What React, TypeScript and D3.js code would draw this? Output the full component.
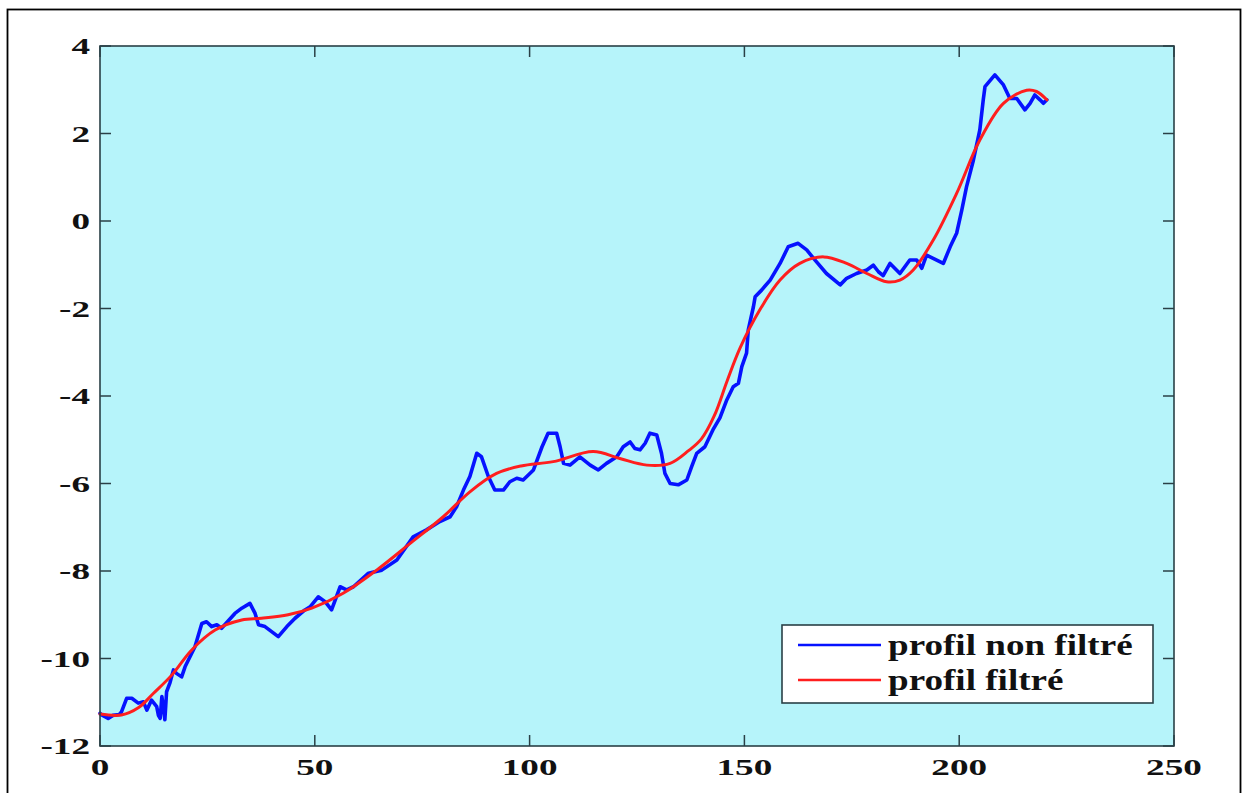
import React from "react";
import * as d3 from "d3";

// Profile samples (distance, value)
const rawX = [0, 0.4, 1.9, 3.0, 4.5, 5.0, 6.2, 7.4, 8.9, 10.1, 10.9, 12.0, 13.2, 13.6, 14.0, 14.4, 14.8, 15.1, 15.5, 16.3, 17.1, 17.8, 19.0, 19.8, 22.1, 23.7, 24.8, 26.0, 27.2, 28.3, 31.4, 33.0, 34.9, 36.1, 36.9, 38.4, 41.5, 43.5, 45.4, 47.7, 48.9, 50.8, 52.4, 53.9, 55.9, 57.4, 59.0, 62.5, 65.6, 69.1, 72.9, 76.0, 79.1, 81.5, 83.0, 84.6, 86.1, 87.7, 88.8, 90.4, 91.9, 93.9, 95.4, 97.0, 98.5, 100.9, 102.9, 104.3, 106.3, 107.1, 107.9, 109.4, 111.7, 114.1, 116.0, 117.9, 120.3, 121.8, 123.4, 124.5, 125.7, 126.9, 128.0, 129.6, 130.7, 131.5, 132.7, 134.6, 136.6, 137.7, 138.9, 140.8, 142.8, 144.3, 145.9, 147.4, 148.6, 149.4, 150.5, 150.9, 152.1, 152.5, 154.0, 156.0, 158.3, 160.2, 162.5, 164.5, 166.4, 169.1, 172.3, 173.8, 176.1, 178.5, 180.0, 181.2, 182.3, 183.9, 185.4, 186.2, 188.5, 190.1, 191.3, 192.4, 196.3, 197.9, 199.4, 200.6, 201.7, 203.3, 204.8, 205.6, 206.0, 208.3, 210.3, 211.8, 213.4, 215.3, 216.5, 217.6, 218.8, 219.6, 220.4];
const rawY = [-11.25, -11.29, -11.37, -11.3, -11.28, -11.22, -10.91, -10.91, -11.02, -10.99, -11.18, -10.95, -11.1, -11.3, -11.37, -10.87, -11.15, -11.4, -10.76, -10.55, -10.26, -10.34, -10.42, -10.19, -9.73, -9.2, -9.16, -9.27, -9.23, -9.31, -8.97, -8.85, -8.74, -8.97, -9.23, -9.27, -9.5, -9.27, -9.08, -8.89, -8.82, -8.59, -8.7, -8.89, -8.36, -8.43, -8.36, -8.05, -7.98, -7.75, -7.22, -7.06, -6.87, -6.76, -6.53, -6.15, -5.84, -5.31, -5.39, -5.84, -6.15, -6.15, -5.96, -5.88, -5.92, -5.69, -5.16, -4.85, -4.85, -5.16, -5.54, -5.58, -5.39, -5.58, -5.69, -5.54, -5.39, -5.16, -5.05, -5.2, -5.23, -5.08, -4.85, -4.89, -5.31, -5.77, -6.0, -6.03, -5.92, -5.62, -5.31, -5.16, -4.75, -4.5, -4.09, -3.79, -3.71, -3.33, -3.02, -2.49, -1.96, -1.73, -1.58, -1.35, -0.97, -0.59, -0.51, -0.66, -0.89, -1.2, -1.46, -1.31, -1.2, -1.12, -1.01, -1.16, -1.25, -0.97, -1.12, -1.2, -0.89, -0.89, -1.08, -0.78, -0.97, -0.59, -0.28, 0.25, 0.78, 1.39, 2.08, 2.77, 3.07, 3.34, 3.11, 2.8, 2.8, 2.54, 2.69, 2.88, 2.77, 2.69, 2.77];

const filtX = [0, 5, 9, 12.4, 16.7, 21.3, 26.8, 33.0, 37.6, 43.8, 49.3, 56.6, 64.4, 72.2, 79.9, 86.1, 92.3, 98, 105.5, 114.8, 121.0, 127.3, 132.7, 137, 140, 143, 146, 149, 153.6, 158.3, 162.9, 168.4, 173.8, 178.5, 183.1, 186.2, 189.3, 194.0, 199.4, 204.8, 210.3, 215.7, 218.0, 220.4];
const filtY = [-11.27, -11.29, -11.12, -10.8, -10.38, -9.81, -9.35, -9.12, -9.08, -9.0, -8.85, -8.51, -7.98, -7.37, -6.76, -6.19, -5.77, -5.6, -5.5, -5.27, -5.43, -5.58, -5.54, -5.25, -4.98, -4.45, -3.65, -2.9, -2.03, -1.35, -0.97, -0.82, -0.97, -1.2, -1.39, -1.35, -1.12, -0.43, 0.63, 1.85, 2.69, 2.99, 2.96, 2.77];

const xTicks = [0, 50, 100, 150, 200, 250];
const yTicks = [4, 2, 0, -2, -4, -6, -8, -10, -12];
const legendLabels = ["profil non filtré", "profil filtré"];

const W = 1242;
const H = 793;
const left = 100, right = 1174, top = 46, bottom = 746;
const axisColor = "#2a4046";
const bg = "#b6f4fa";
const blue = "#0612ff";
const red = "#ff1e1e";
const font = "'Liberation Serif', 'Times New Roman', serif";

export default function App() {
  const x = d3.scaleLinear().domain([0, 250]).range([left, right]);
  const y = d3.scaleLinear().domain([-12, 4]).range([bottom, top]);

  const raw = rawX.map((v, i) => [v, rawY[i]] as [number, number]);
  const filt = filtX.map((v, i) => [v, filtY[i]] as [number, number]);

  const rawLine = d3.line<[number, number]>().x(d => x(d[0])).y(d => y(d[1])).curve(d3.curveLinear);
  const filtLine = d3.line<[number, number]>().x(d => x(d[0])).y(d => y(d[1])).curve(d3.curveCatmullRom.alpha(0.5));

  const tickLen = 11;

  return (
    <svg width={W} height={H} style={{ position: "absolute", left: 0, top: 0, background: "#fff" }}>
      <rect x={7.5} y={9.5} width={1233} height={800} fill="#fff" stroke="#000" strokeWidth={1.8} />
      <rect x={left} y={top} width={right - left} height={bottom - top} fill={bg} />

      <path d={rawLine(raw) || ""} fill="none" stroke={blue} strokeWidth={3.6} strokeLinejoin="round" strokeLinecap="round" />
      <path d={filtLine(filt) || ""} fill="none" stroke={red} strokeWidth={3} strokeLinejoin="round" strokeLinecap="round" />

      {/* ticks on all four sides, pointing inward */}
      {xTicks.map(t => (
        <g key={"xt" + t} stroke={axisColor} strokeWidth={1.5}>
          <line x1={x(t)} x2={x(t)} y1={bottom} y2={bottom - tickLen} />
          <line x1={x(t)} x2={x(t)} y1={top} y2={top + tickLen} />
        </g>
      ))}
      {yTicks.map(t => (
        <g key={"yt" + t} stroke={axisColor} strokeWidth={1.5}>
          <line x1={left} x2={left + tickLen} y1={y(t)} y2={y(t)} />
          <line x1={right} x2={right - tickLen} y1={y(t)} y2={y(t)} />
        </g>
      ))}
      <rect x={left} y={top} width={right - left} height={bottom - top} fill="none" stroke={axisColor} strokeWidth={1.6} />

      {/* tick labels */}
      {xTicks.map(t => (
        <text key={"xl" + t} transform={`translate(${x(t)},${775}) scale(1.55,1)`} textAnchor="middle"
          fontFamily={font} fontWeight="bold" fontSize={24} fill="#111">{String(t)}</text>
      ))}
      {yTicks.map(t => (
        <text key={"yl" + t} transform={`translate(${90},${y(t) + 8}) scale(1.55,1)`} textAnchor="end"
          fontFamily={font} fontWeight="bold" fontSize={24} fill="#111">{String(t)}</text>
      ))}

      {/* legend */}
      <rect x={782} y={625} width={371} height={78} fill="#fff" stroke={axisColor} strokeWidth={1.6} />
      <line x1={798} x2={881} y1={645} y2={645} stroke={blue} strokeWidth={2.5} />
      <line x1={798} x2={881} y1={680} y2={680} stroke={red} strokeWidth={2.5} />
      {legendLabels.map((s, i) => (
        <text key={s} transform={`translate(888,${655 + i * 35}) scale(1.28,1)`} fontFamily={font}
          fontWeight="bold" fontSize={29} fill="#111">{s}</text>
      ))}
    </svg>
  );
}
